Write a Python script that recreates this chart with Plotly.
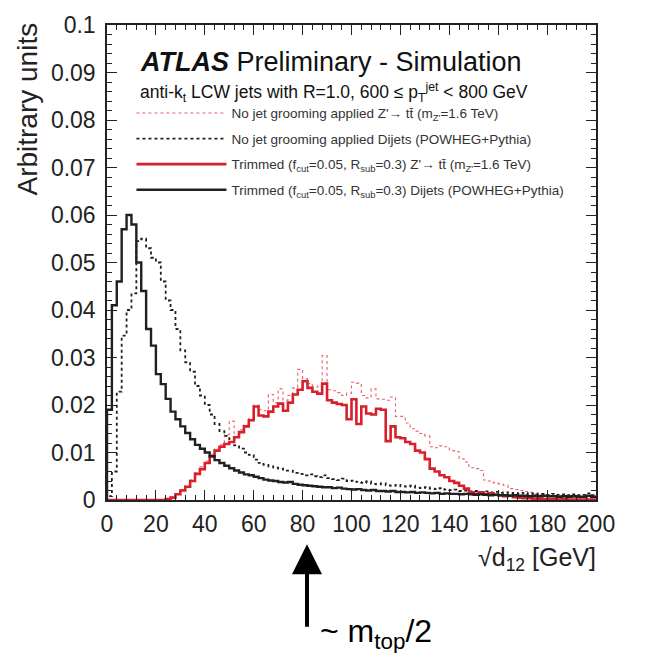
import plotly.graph_objects as go

# ---------------- data (2 GeV bins from 0 to 200 GeV) ----------------
bin_width = 2.0
n_bins = 100
bin_edges = [i * bin_width for i in range(n_bins + 1)]

trim_dijet = [
    0.019, 0.041, 0.046, 0.057, 0.060, 0.058, 0.050, 0.044, 0.036, 0.0325,
    0.0265, 0.0244, 0.0213, 0.0186, 0.0170, 0.0155, 0.0141, 0.0128, 0.0116, 0.0108,
    0.0100, 0.0092, 0.0084, 0.0078, 0.0072, 0.0067, 0.0062, 0.0058, 0.0054, 0.0052,
    0.0049, 0.0046, 0.0043, 0.0041, 0.0040, 0.0038, 0.0037, 0.0038, 0.0034, 0.0032,
    0.0031, 0.0030, 0.0029, 0.0028, 0.0027, 0.0027, 0.0025, 0.0026, 0.0024, 0.0023,
    0.0022, 0.0023, 0.0021, 0.0020, 0.0021, 0.0019, 0.0019, 0.0018, 0.0019, 0.0017,
    0.0017, 0.0016, 0.0017, 0.0015, 0.0016, 0.0015, 0.0014, 0.0015, 0.0013, 0.0014,
    0.0013, 0.0013, 0.0012, 0.0013, 0.0012, 0.0011, 0.0012, 0.0011, 0.0010, 0.0011,
    0.0010, 0.0010, 0.0009, 0.0010, 0.0009, 0.0009, 0.0008, 0.0009, 0.0008, 0.0009,
    0.0008, 0.0008, 0.0007, 0.0008, 0.0007, 0.0008, 0.0007, 0.0007, 0.0009, 0.0007,
]

ungroomed_dijet = [
    0.0008, 0.0060, 0.0228, 0.0346, 0.0400, 0.0435, 0.0545, 0.0550, 0.0530, 0.0510,
    0.0500, 0.0460, 0.0420, 0.0400, 0.0360, 0.0315, 0.0290, 0.0270, 0.0240, 0.0220,
    0.0200, 0.0180, 0.0160, 0.0145, 0.0135, 0.0128, 0.0115, 0.0108, 0.0100, 0.0095,
    0.0085, 0.0078, 0.0074, 0.0071, 0.0068, 0.0066, 0.0062, 0.0062, 0.0057, 0.0055,
    0.0052, 0.0054, 0.0050, 0.0048, 0.0052, 0.0046, 0.0044, 0.0042, 0.0045, 0.0040,
    0.0041, 0.0038, 0.0036, 0.0039, 0.0034, 0.0033, 0.0035, 0.0031, 0.0030, 0.0032,
    0.0029, 0.0028, 0.0030, 0.0026, 0.0025, 0.0027, 0.0024, 0.0023, 0.0025, 0.0022,
    0.0021, 0.0022, 0.0019, 0.0020, 0.0018, 0.0019, 0.0017, 0.0018, 0.0016, 0.0017,
    0.0015, 0.0016, 0.0014, 0.0015, 0.0013, 0.0015, 0.0012, 0.0014, 0.0012, 0.0013,
    0.0011, 0.0013, 0.0011, 0.0012, 0.0010, 0.0012, 0.0010, 0.0011, 0.0014, 0.0010,
]

trim_zprime = [
    0.0, 0.0, 0.0, 0.0, 0.0, 0.0, 0.0, 0.0, 0.0, 0.0,
    0.0, 0.0, 0.0002, 0.0005, 0.0012, 0.0020, 0.0028, 0.0040, 0.0055, 0.0065,
    0.0078, 0.0092, 0.0104, 0.0112, 0.0118, 0.0122, 0.0132, 0.0143, 0.0155, 0.0168,
    0.0197, 0.0178, 0.0176, 0.0186, 0.0197, 0.0203, 0.0188, 0.0205, 0.0222, 0.0232,
    0.0250, 0.0236, 0.0228, 0.0224, 0.0245, 0.0210, 0.0205, 0.0202, 0.0200, 0.0170,
    0.0212, 0.0160, 0.0197, 0.0182, 0.0180, 0.0192, 0.0190, 0.0124, 0.0155, 0.0132,
    0.0130, 0.0122, 0.0118, 0.0104, 0.0100, 0.0086, 0.0066, 0.0060, 0.0052, 0.0048,
    0.0040, 0.0036, 0.0030, 0.0024, 0.0016, 0.0013, 0.0016, 0.0012, 0.0014, 0.0011,
    0.0010, 0.0008, 0.0009, 0.0006, 0.0005, 0.0004, 0.0004, 0.0003, 0.0003, 0.0002,
    0.0002, 0.0002, 0.0001, 0.0002, 0.0001, 0.0001, 0.0001, 0.0001, 0.0001, 0.0001,
]

ungroomed_zprime = [
    0.0, 0.0, 0.0, 0.0, 0.0, 0.0, 0.0, 0.0, 0.0, 0.0,
    0.0, 0.0, 0.0003, 0.0006, 0.0012, 0.0022, 0.0030, 0.0042, 0.0058, 0.0070,
    0.0082, 0.0096, 0.0108, 0.0116, 0.0138, 0.0166, 0.0140, 0.0148, 0.0158, 0.0172,
    0.0200, 0.0190, 0.0188, 0.0222, 0.0205, 0.0234, 0.0210, 0.0220, 0.0236, 0.0275,
    0.0255, 0.0245, 0.0240, 0.0238, 0.0304, 0.0232, 0.0230, 0.0226, 0.0220, 0.0225,
    0.0248, 0.0246, 0.0220, 0.0215, 0.0234, 0.0213, 0.0212, 0.0210, 0.0217, 0.0176,
    0.0176, 0.0162, 0.0150, 0.0145, 0.0140, 0.0135, 0.0112, 0.0110, 0.0114, 0.0112,
    0.0104, 0.0102, 0.0087, 0.0080, 0.0068, 0.0066, 0.0062, 0.0042, 0.0040, 0.0036,
    0.0034, 0.0031, 0.0024, 0.0022, 0.0020, 0.0018, 0.0016, 0.0012, 0.0011, 0.0010,
    0.0009, 0.0008, 0.0008, 0.0007, 0.0006, 0.0006, 0.0005, 0.0005, 0.0004, 0.0004,
]

x_tickvals = [0, 20, 40, 60, 80, 100, 120, 140, 160, 180, 200]
x_ticktext = ["0", "20", "40", "60", "80", "100", "120", "140", "160", "180", "200"]
y_tickvals = [0, 0.01, 0.02, 0.03, 0.04, 0.05, 0.06, 0.07, 0.08, 0.09, 0.1]
y_ticktext = ["0", "0.01", "0.02", "0.03", "0.04", "0.05", "0.06", "0.07", "0.08", "0.09", "0.1"]

legend_labels = [
    "No jet grooming applied Z'→ tt\u0304 (m<sub>Z'</sub>=1.6 TeV)",
    "No jet grooming applied Dijets (POWHEG+Pythia)",
    "Trimmed (f<sub>cut</sub>=0.05, R<sub>sub</sub>=0.3) Z'→ tt\u0304 (m<sub>Z'</sub>=1.6 TeV)",
    "Trimmed (f<sub>cut</sub>=0.05, R<sub>sub</sub>=0.3) Dijets (POWHEG+Pythia)",
]

FONT = "Liberation Sans, Arial, Helvetica, sans-serif"
RED = "#d8202c"


def step_xy(values):
    xs = [bin_edges[0]] + bin_edges
    ys = [0.0] + list(values) + [values[-1]]
    return xs, ys


fig = go.Figure()
series = [
    (ungroomed_zprime, dict(color="#e8606a", width=1.1, dash="dot")),
    (ungroomed_dijet, dict(color="#202020", width=1.8, dash="dot")),
    (trim_zprime, dict(color=RED, width=2.6, dash="solid")),
    (trim_dijet, dict(color="#202020", width=2.4, dash="solid")),
]
for i, (vals, line) in enumerate(series):
    xs, ys = step_xy(vals)
    fig.add_trace(go.Scatter(
        x=xs, y=ys, mode="lines", line=dict(shape="hv", **line),
        name=legend_labels[i], legendgroup=f"g{i}", showlegend=True,
    ))

axis_common = dict(
    showgrid=False, zeroline=False, showline=True, linecolor="#222",
    linewidth=1.5, mirror="allticks", ticks="inside", ticklen=10,
    tickwidth=1, tickcolor="#222",
    tickfont=dict(family=FONT, size=23, color="#222"),
)

fig.update_xaxes(
    range=[0, 200], tickvals=x_tickvals, ticktext=x_ticktext,
    minor=dict(ticks="inside", ticklen=5, dtick=4, tickcolor="#222", showgrid=False),
    ticklabelstandoff=3,
    **axis_common,
)
fig.update_yaxes(
    range=[0, 0.1], tickvals=y_tickvals, ticktext=y_ticktext,
    minor=dict(ticks="inside", ticklen=5, dtick=0.002, tickcolor="#222", showgrid=False),
    ticklabelstandoff=5,
    **axis_common,
)

annotations = [
    dict(xref="paper", yref="paper", x=0.064, y=(500 - 72) / 483, xanchor="left", yanchor="bottom",
         text="<b><i>ATLAS</i></b> Preliminary - Simulation", showarrow=False,
         font=dict(family=FONT, size=27, color="#111")),
    dict(xref="paper", yref="paper", x=0.064, y=(500 - 86) / 483, xanchor="left", yanchor="middle",
         text="anti-k<sub>t</sub> LCW jets with R=1.0, 600 ≤ p<sub>T</sub><sup>jet</sup> &lt; 800 GeV",
         showarrow=False, font=dict(family=FONT, size=17.5, color="#111")),
    dict(xref="paper", yref="paper", x=-0.162, y=1.01, xanchor="center", yanchor="top",
         text="Arbitrary units", textangle=-90, showarrow=False,
         font=dict(family=FONT, size=28, color="#222")),
    dict(xref="paper", yref="paper", x=1.005, y=(500 - 560) / 483, xanchor="right", yanchor="middle",
         text="√d<sub>12</sub> [GeV]", showarrow=False,
         font=dict(family=FONT, size=25, color="#222")),
    dict(xref="x", yref="paper", x=81.8, y=(500 - 545) / 483, text="", showarrow=True,
         ax=0, ay=84, arrowhead=2, arrowwidth=4, arrowsize=1.5, arrowcolor="#000", standoff=0),
    dict(xref="x", yref="paper", x=86.5, y=(500 - 636) / 483, xanchor="left", yanchor="middle",
         text="~ m<sub>top</sub>/2", showarrow=False,
         font=dict(family=FONT, size=32, color="#000")),
]

fig.update_layout(
    width=647, height=653,
    margin=dict(l=107, r=51, t=17, b=153),
    paper_bgcolor="white", plot_bgcolor="white",
    font=dict(family=FONT),
    annotations=annotations,
    legend=dict(
        x=0.05, y=(500 - 91) / 483, xanchor="left", yanchor="top",
        bgcolor="rgba(0,0,0,0)", borderwidth=0,
        font=dict(family=FONT, size=13.5, color="#333"),
        itemwidth=90, tracegroupgap=5, traceorder="grouped",
    ),
)

fig.write_html("out.html")
